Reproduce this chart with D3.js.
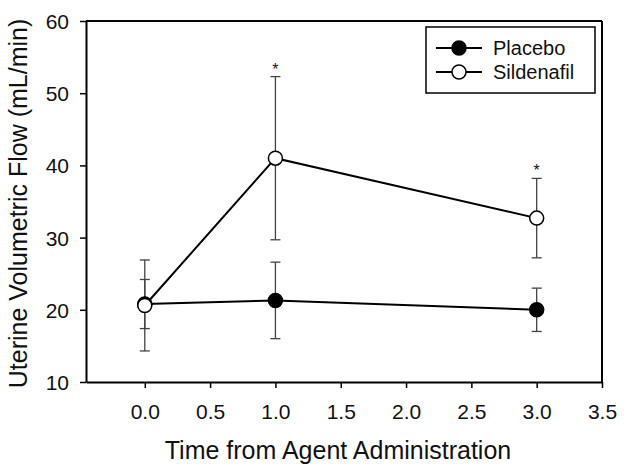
<!DOCTYPE html>
<html>
<head>
<meta charset="utf-8">
<script src="https://cdn.jsdelivr.net/npm/d3@7"></script>
<style>
  body { margin: 0; background: #fff; }
  text { font-family: "Liberation Sans", Arial, sans-serif; fill: #111; }
</style>
</head>
<body>
<div class="chart"></div>
<script>
// data
const times = [0, 1, 3]
const placebo = [20.8, 21.3, 20.0]
const placeboErr = [3.4, 5.3, 3.0]
const sildenafil = [20.6, 41.0, 32.7]
const sildenafilErr = [6.3, 11.3, 5.5]
const sigTimes = [1, 3]   // asterisks
const xTicks = [0, 0.5, 1, 1.5, 2, 2.5, 3, 3.5]
const yTicks = [10, 20, 30, 40, 50, 60]

const W = 624, H = 471
var margin = {left: 86, right: 22, top: 21, bottom: 89},
    width = W - margin.left - margin.right,
    height = H - margin.top - margin.bottom

const svg = d3.select(".chart").append("svg")
  .attr("width", W).attr("height", H)

const g = svg.append("g")
  .attr("transform", `translate(${margin.left},${margin.top})`)

const xs = d3.scaleLinear().domain([-0.45, 3.5]).range([0, width])
const ys = d3.scaleLinear().domain([10, 60]).range([height, 0])

// axes
g.append("g")
  .attr("transform", `translate(0,${height})`)
  .call(d3.axisBottom(xs).tickValues(xTicks).tickFormat(d3.format(".1f")).tickSize(6).tickSizeOuter(0))
  .call(a => a.select(".domain").attr("stroke-width", 2))
  .call(a => a.selectAll(".tick line").attr("stroke-width", 1.5))
  .call(a => a.selectAll(".tick text").attr("dy", 0).attr("y", 37).attr("font-size", 21).attr("font-family", "Liberation Sans, Arial, sans-serif"))

g.append("g")
  .call(d3.axisLeft(ys).tickValues(yTicks).tickSize(6).tickSizeOuter(0))
  .call(a => a.select(".domain").attr("stroke-width", 2))
  .call(a => a.selectAll(".tick line").attr("stroke-width", 1.5))
  .call(a => a.selectAll(".tick text").attr("x", -17).attr("dy", "0.36em").attr("font-size", 21).attr("font-family", "Liberation Sans, Arial, sans-serif"))

// top and right frame
g.append("line").attr("x1", 0).attr("x2", width).attr("y1", 0).attr("y2", 0)
  .attr("stroke", "#000").attr("stroke-width", 2)
g.append("line").attr("x1", width).attr("x2", width).attr("y1", 0).attr("y2", height)
  .attr("stroke", "#000").attr("stroke-width", 2)

// axis titles
svg.append("text")
  .attr("x", 338).attr("y", 459)
  .attr("text-anchor", "middle").attr("font-size", 25)
  .text("Time from Agent Administration")

svg.append("text")
  .attr("transform", `translate(27,${margin.top + height / 2 + 2}) rotate(-90)`)
  .attr("text-anchor", "middle").attr("font-size", 25)
  .text("Uterine Volumetric Flow (mL/min)")

const series = [
  {name: "Placebo", vals: placebo, err: placeboErr, fill: "#000"},
  {name: "Sildenafil", vals: sildenafil, err: sildenafilErr, fill: "#fff"}
]

const line = d3.line().x(d => xs(d[0])).y(d => ys(d[1]))

series.forEach(s => {
  const pts = times.map((t, i) => [t, s.vals[i], s.err[i]])
  const eb = g.append("g").attr("stroke", "#444").attr("stroke-width", 1.3)
  eb.selectAll(".v").data(pts).join("line")
    .attr("x1", d => xs(d[0])).attr("x2", d => xs(d[0]))
    .attr("y1", d => ys(d[1] + d[2])).attr("y2", d => ys(d[1] - d[2]))
  eb.selectAll(".t").data(pts).join("line")
    .attr("x1", d => xs(d[0]) - 5).attr("x2", d => xs(d[0]) + 5)
    .attr("y1", d => ys(d[1] + d[2])).attr("y2", d => ys(d[1] + d[2]))
  eb.selectAll(".b").data(pts).join("line")
    .attr("x1", d => xs(d[0]) - 5).attr("x2", d => xs(d[0]) + 5)
    .attr("y1", d => ys(d[1] - d[2])).attr("y2", d => ys(d[1] - d[2]))
})

series.forEach(s => {
  const pts = times.map((t, i) => [t, s.vals[i]])
  g.append("path").datum(pts).attr("d", line)
    .attr("fill", "none").attr("stroke", "#000").attr("stroke-width", 2)
  g.selectAll(null).data(pts).join("circle")
    .attr("cx", d => xs(d[0])).attr("cy", d => ys(d[1])).attr("r", 7)
    .attr("fill", s.fill).attr("stroke", "#000").attr("stroke-width", 1.5)
})

// significance markers
g.selectAll(".star").data(sigTimes).join("text")
  .attr("x", d => xs(d))
  .attr("y", d => { const i = times.indexOf(d); return ys(sildenafil[i] + sildenafilErr[i]) - 2 })
  .attr("text-anchor", "middle").attr("font-size", 16)
  .text("*")

// legend
const lg = svg.append("g").attr("transform", "translate(426,27)")
lg.append("rect").attr("width", 169).attr("height", 66)
  .attr("fill", "#fff").attr("stroke", "#000").attr("stroke-width", 1.5)
series.forEach((s, i) => {
  const y = 21 + i * 24
  lg.append("line").attr("x1", 10).attr("x2", 56).attr("y1", y).attr("y2", y)
    .attr("stroke", "#000").attr("stroke-width", 2)
  lg.append("circle").attr("cx", 33).attr("cy", y).attr("r", 7)
    .attr("fill", s.fill).attr("stroke", "#000").attr("stroke-width", 1.5)
  lg.append("text").attr("x", 67).attr("y", y).attr("dy", "0.36em")
    .attr("font-size", 20).text(s.name)
})
</script>
</body>
</html>
